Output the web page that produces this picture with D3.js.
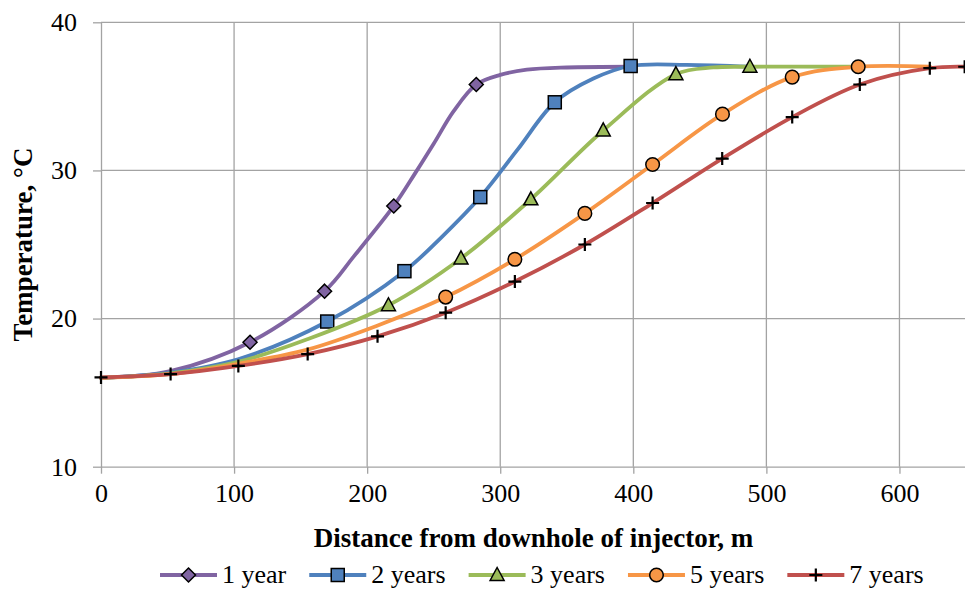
<!DOCTYPE html>
<html>
<head>
<meta charset="utf-8">
<script src="https://cdn.jsdelivr.net/npm/d3@7"></script>
<style>
  html, body { margin: 0; padding: 0; background: #ffffff; }
  svg { display: block; }
  text { font-family: "Liberation Serif", "Times New Roman", serif; fill: #000; }
</style>
</head>
<body>
<svg id="chart" width="965" height="590"></svg>
<script>
// ---------------- data ----------------
const xTicks = [0, 100, 200, 300, 400, 500, 600];
const yTicks = [10, 20, 30, 40];
const seriesNames = ["1 year", "2 years", "3 years", "5 years", "7 years"];
const xTitle = "Distance from downhole of injector, m";
const yTitle = "Temperature, °C";

// 1 year
const dist1 = [0, 52, 112, 168, 190, 220, 236, 250, 265, 282, 300, 320, 350, 398];
const temp1 = [16.0, 16.45, 18.4, 21.85, 24.2, 27.6, 29.8, 31.8, 34.0, 35.8, 36.45, 36.8, 36.95, 37.0];
const mark1 = [0, 0, 1, 1, 0, 1, 0, 0, 0, 1, 0, 0, 0, 0];
// 2 years
const dist2 = [0, 52, 103, 170, 228, 256, 285, 313, 341, 370, 398, 440, 488];
const temp2 = [16.0, 16.35, 17.25, 19.8, 23.2, 25.5, 28.2, 31.4, 34.6, 36.2, 37.05, 37.12, 37.0];
const mark2 = [0, 0, 0, 1, 1, 0, 1, 0, 1, 0, 1, 0, 0];
// 3 years
const dist3 = [0, 52, 103, 155, 216, 270.5, 323, 377.4, 432, 460, 487.6, 569];
const temp3 = [16.0, 16.3, 17.08, 18.6, 20.9, 24.06, 28.05, 32.7, 36.5, 36.95, 37.0, 37.0];
const mark3 = [0, 0, 0, 0, 1, 1, 1, 1, 1, 0, 1, 0];
// 5 years
const dist5 = [0, 52, 103, 155, 207, 259, 311, 363.6, 414.5, 467, 519.4, 569, 623];
const temp5 = [16.0, 16.25, 16.95, 17.9, 19.5, 21.45, 24.0, 27.1, 30.4, 33.8, 36.3, 37.0, 37.0];
const mark5 = [0, 0, 0, 0, 0, 1, 1, 1, 1, 1, 1, 1, 0];
// 7 years
const dist7 = [0, 52.3, 103.2, 155.3, 207.8, 259, 311, 363.6, 414.5, 466.8, 519.4, 570.2, 622.8, 649];
const temp7 = [16.03, 16.25, 16.8, 17.6, 18.8, 20.4, 22.5, 25.0, 27.8, 30.8, 33.6, 35.8, 36.9, 37.0];
const mark7 = [1, 1, 1, 1, 1, 1, 1, 1, 1, 1, 1, 1, 1, 1];

const colors = ["#8064A2", "#4F81BD", "#9BBB59", "#F79646", "#C0504D"];
const markerTypes = ["diamond", "square", "triangle", "circle", "cross"];

const table = [
  [dist1, temp1, mark1], [dist2, temp2, mark2], [dist3, temp3, mark3],
  [dist5, temp5, mark5], [dist7, temp7, mark7]
].map(([d, t, m], i) => ({
  name: seriesNames[i], color: colors[i], marker: markerTypes[i],
  points: d.map((xv, j) => ({ x: xv, t: t[j], m: m[j] === 1 }))
}));

// ---------------- layout ----------------
const svg = d3.select("#chart");
const plotLeft = 101, plotRight = 966, plotTop = 22.3, plotBottom = 466.7;
const x = d3.scaleLinear().domain([0, 650]).range([plotLeft, plotRight]);
const y = d3.scaleLinear().domain([10, 40]).range([plotBottom, plotTop]);
const gridColor = "#a3a3a3";
const tickFont = 26;
const serif = '"Liberation Serif", "Times New Roman", serif';

// grid
const grid = svg.append("g");
grid.selectAll("line.v").data(xTicks.filter(v => v > 0)).join("line")
  .attr("class", "v")
  .attr("x1", d => x(d)).attr("x2", d => x(d))
  .attr("y1", plotTop).attr("y2", plotBottom)
  .attr("stroke", gridColor).attr("stroke-width", 1.3);
grid.selectAll("line.h").data(yTicks.filter(v => v > 10)).join("line")
  .attr("class", "h")
  .attr("x1", plotLeft).attr("x2", plotRight)
  .attr("y1", d => y(d)).attr("y2", d => y(d))
  .attr("stroke", gridColor).attr("stroke-width", 1.3);

// axes
const xAxis = svg.append("g").attr("transform", `translate(0,${plotBottom})`)
  .call(d3.axisBottom(x).tickValues(xTicks).tickSizeInner(7).tickSizeOuter(0).tickPadding(10));
const yAxis = svg.append("g").attr("transform", `translate(${plotLeft},0)`)
  .call(d3.axisLeft(y).tickValues(yTicks).tickSizeInner(8).tickSizeOuter(0).tickPadding(16));
[xAxis, yAxis].forEach(a => {
  a.attr("font-family", serif);
  a.select(".domain").attr("stroke", gridColor).attr("stroke-width", 1.3);
  a.selectAll(".tick line").attr("stroke", gridColor).attr("stroke-width", 1.3);
  a.selectAll(".tick text").attr("font-size", tickFont)
    .attr("font-family", serif).attr("fill", "#000");
});

// axis titles
svg.append("text").attr("x", (plotLeft + plotRight) / 2).attr("y", 547)
  .attr("text-anchor", "middle").attr("font-size", 27).attr("font-weight", "bold")
  .attr("font-family", serif)
  .text(xTitle);
svg.append("text").attr("transform", `translate(32,${(plotTop + plotBottom) / 2}) rotate(-90)`)
  .attr("text-anchor", "middle").attr("font-size", 27).attr("font-weight", "bold")
  .attr("font-family", serif)
  .text(yTitle);

// marker drawing
function drawMarker(g, type, color) {
  if (type === "diamond") {
    g.append("path").attr("d", "M0,-7L7,0L0,7L-7,0Z")
      .attr("fill", color).attr("stroke", "#000").attr("stroke-width", 1.5);
  } else if (type === "square") {
    g.append("rect").attr("x", -6.5).attr("y", -6.5).attr("width", 13).attr("height", 13)
      .attr("fill", color).attr("stroke", "#000").attr("stroke-width", 1.5);
  } else if (type === "triangle") {
    g.append("path").attr("d", "M0,-7.5L7,5.5L-7,5.5Z")
      .attr("fill", color).attr("stroke", "#000").attr("stroke-width", 1.5);
  } else if (type === "circle") {
    g.append("circle").attr("r", 6.8)
      .attr("fill", color).attr("stroke", "#000").attr("stroke-width", 1.5);
  } else {
    g.append("path").attr("d", "M-6.5,0H6.5M0,-6.5V6.5")
      .attr("stroke", "#000").attr("stroke-width", 2.2).attr("fill", "none");
  }
}

// series
const line = d3.line().x(d => x(d.x)).y(d => y(d.t)).curve(d3.curveCatmullRom.alpha(0.5));
const plot = svg.append("g");
table.forEach(s => {
  const g = plot.append("g");
  g.append("path").datum(s.points).attr("d", line)
    .attr("fill", "none").attr("stroke", s.color).attr("stroke-width", 3.8)
    .attr("stroke-linecap", "round").attr("stroke-linejoin", "round");
  g.selectAll("g.mk").data(s.points.filter(p => p.m)).join("g")
    .attr("class", "mk")
    .attr("transform", p => `translate(${x(p.x)},${y(p.t)})`)
    .each(function () { drawMarker(d3.select(this), s.marker, s.color); });
});

// legend
const legend = svg.append("g").attr("transform", "translate(160,575)");
let cursor = 0;
table.forEach(s => {
  const item = legend.append("g").attr("transform", `translate(${cursor},0)`);
  item.append("line").attr("x1", 0).attr("x2", 57).attr("y1", 0).attr("y2", 0)
    .attr("stroke", s.color).attr("stroke-width", 3.8);
  const mk = item.append("g").attr("transform", "translate(28.5,0)");
  drawMarker(mk, s.marker, s.color);
  const t = item.append("text").attr("x", 62).attr("y", 8).attr("font-size", 26)
    .attr("font-family", serif).text(s.name);
  cursor += 62 + t.node().getComputedTextLength() + 23;
});
</script>
</body>
</html>
